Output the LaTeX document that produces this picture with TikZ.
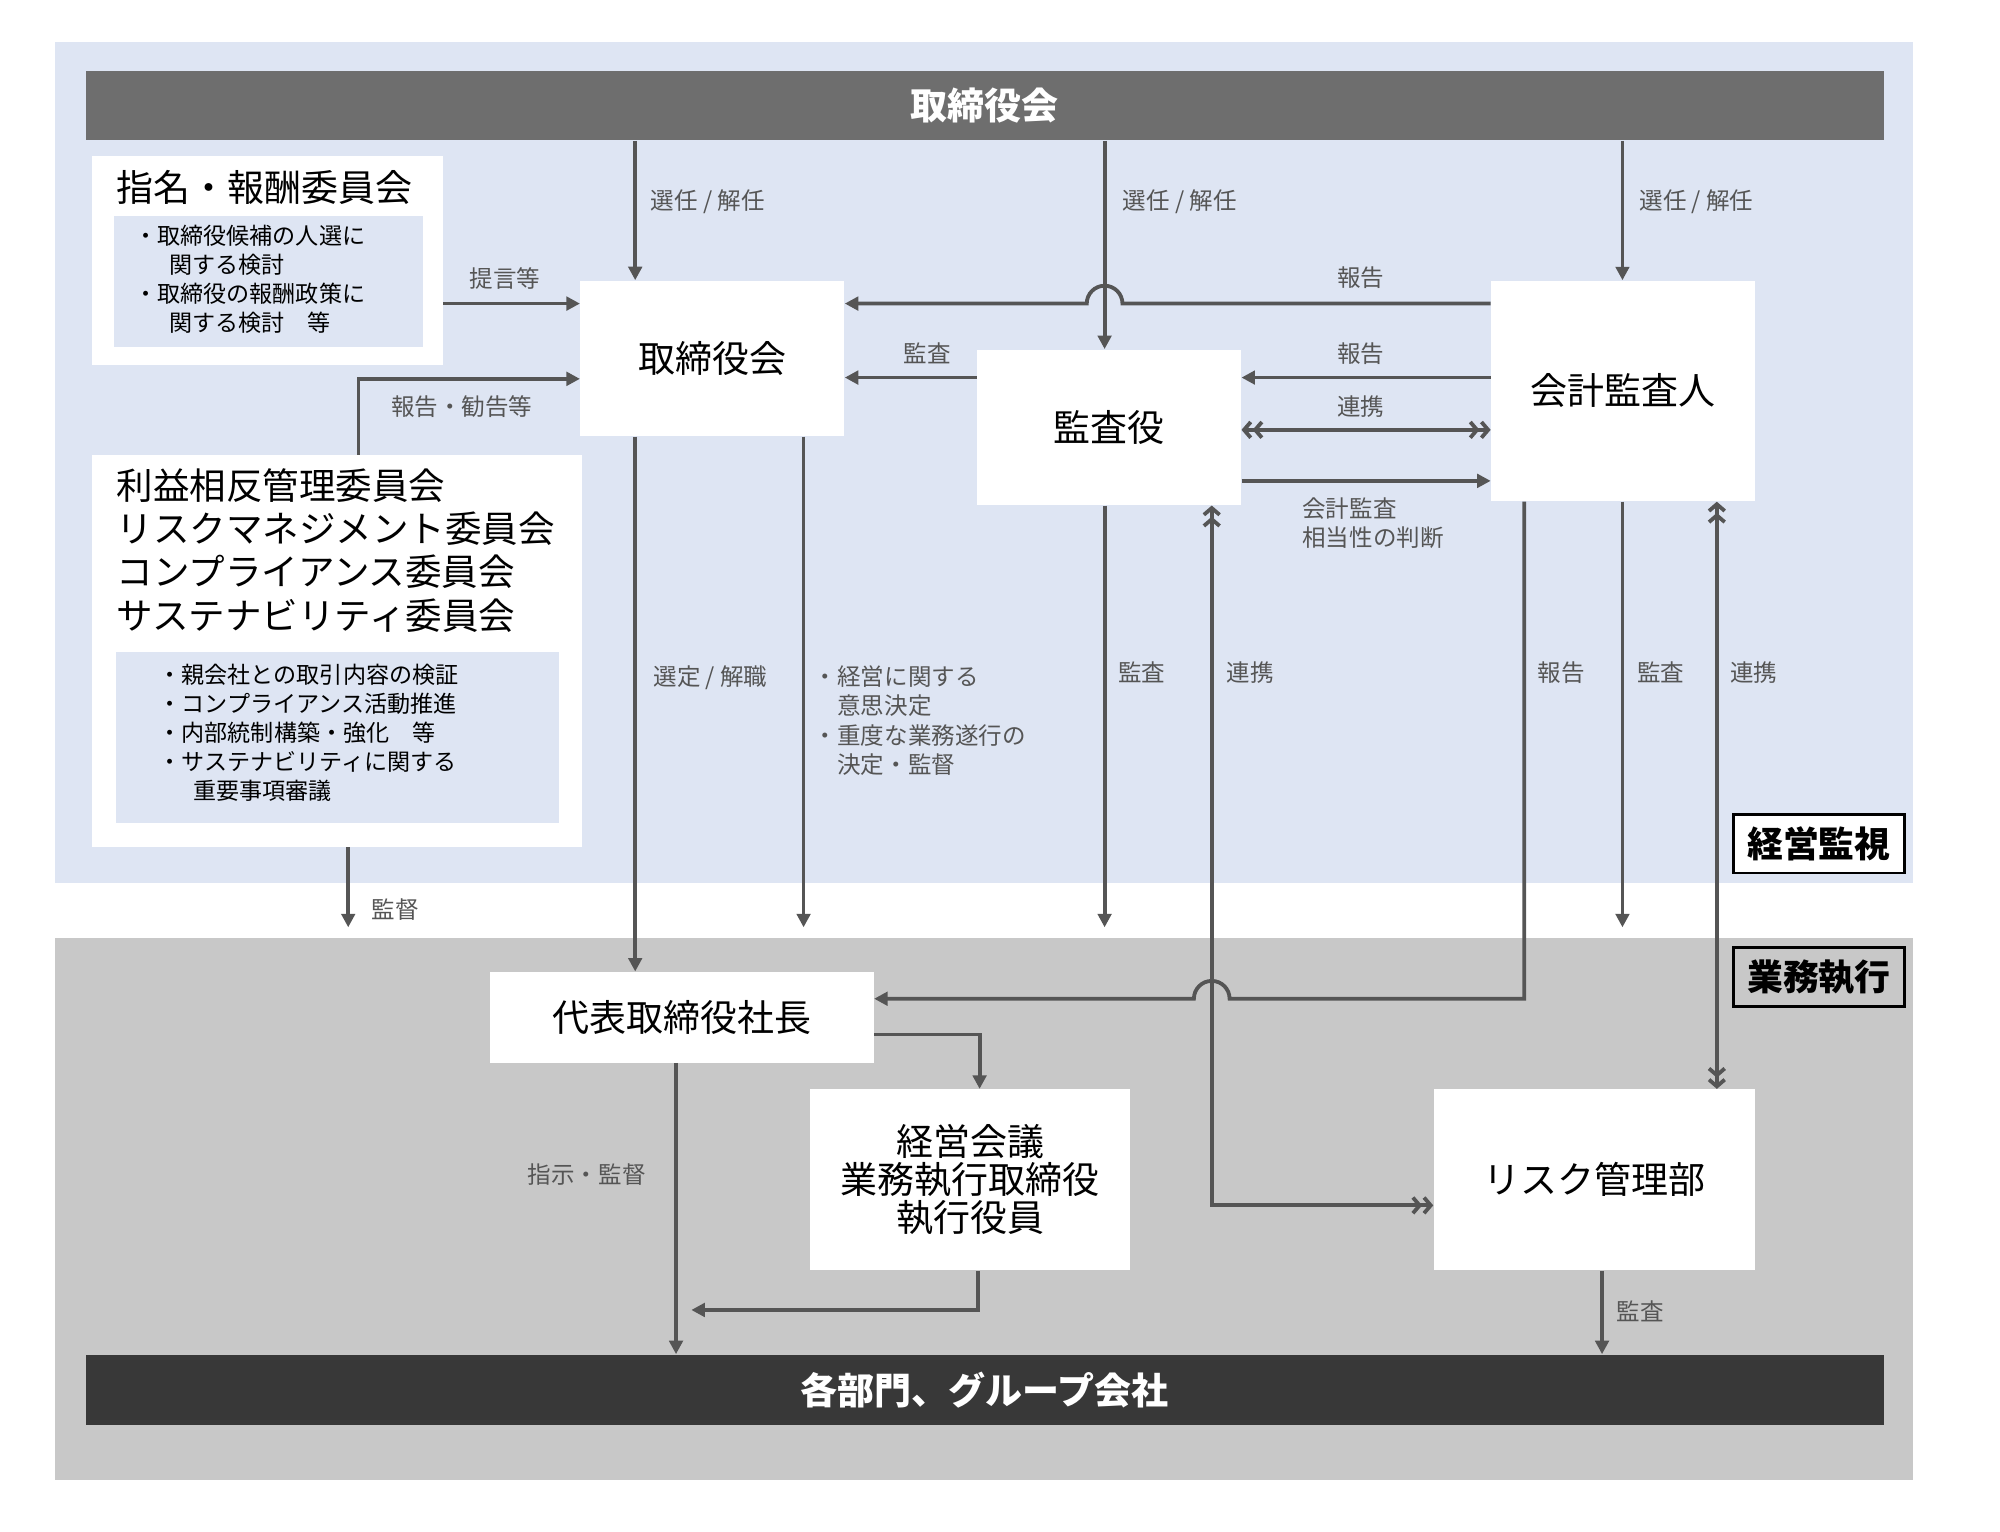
\documentclass[tikz,border=0pt]{standalone}
\usepackage{fontspec}
\setmainfont{Noto Sans CJK JP}
\usetikzlibrary{arrows.meta}
\definecolor{bgblue}{HTML}{DEE5F3}
\definecolor{bggray}{HTML}{C8C8C8}
\definecolor{ln}{HTML}{555555}
\definecolor{lbl}{HTML}{555555}
\begin{document}
\begin{tikzpicture}[x=0.02cm,y=-0.02cm,
  box/.style={fill=white,draw=none,inner sep=0pt,align=center,font=\fontsize{16.5}{20}\selectfont},
  inbox/.style={fill=bgblue,draw=none,inner sep=0pt},
  ar/.style={draw=ln,line width=1.7pt,-{Triangle[length=6pt,width=6pt]}},
  dar/.style={draw=ln,line width=1.7pt,{Straight Barb[length=3pt,width=7pt]Straight Barb[length=3pt,width=7pt]}-{Straight Barb[length=3pt,width=7pt]Straight Barb[length=3pt,width=7pt]}},
  pl/.style={draw=ln,line width=1.7pt},
  lb/.style={text=lbl,font=\fontsize{10.5}{13}\selectfont,inner sep=1pt},
  tag/.style={draw=black,line width=1.2pt,inner sep=0pt,minimum width=2.68cm,minimum height=0.92cm,font=\fontsize{16}{18}\bfseries\selectfont}]
\useasboundingbox (0,0) rectangle (1568,1200.4);
\fill[bgblue] (43,33) rectangle (1500,692);
\fill[bggray] (43,735) rectangle (1500,1160);
\node[fill=black!57,inner sep=0pt,minimum width=28.2cm,minimum height=1.08cm,text=white,font=\fontsize{16.5}{18}\bfseries\selectfont] (top) at (772,83) {取締役会};
\node[fill=black!78,inner sep=0pt,minimum width=28.2cm,minimum height=1.1cm,text=white,font=\fontsize{16.5}{18}\bfseries\selectfont] (bot) at (772,1089.5) {各部門、グループ会社};
% nomination committee
\node[box,minimum width=5.5cm,minimum height=3.28cm] (nom) at (209.5,204) {};
\node[inbox,minimum width=4.86cm,minimum height=2.06cm] (nomin) at (210.5,220.5) {};
\node[anchor=west,inner sep=0pt,font=\fontsize{16.5}{20}\selectfont] (nomt) at (91,147) {指名・報酬委員会};
\node[anchor=north west,inner sep=0pt,align=left,font=\fontsize{10.3}{13}\selectfont] (nomtx) at (105,176) {・取締役候補の人選に\\\hspace{1.5em}関する検討\\・取締役の報酬政策に\\\hspace{1.5em}関する検討\quad 等};
% committees
\node[box,minimum width=7.68cm,minimum height=6.14cm] (com) at (264,510.5) {};
\node[inbox,minimum width=6.94cm,minimum height=2.68cm] (comin) at (264.5,578) {};
\node[anchor=north west,inner sep=0pt,align=left,font=\fontsize{16.3}{19.3}\selectfont] (comt) at (91,367) {利益相反管理委員会\\リスクマネジメント委員会\\コンプライアンス委員会\\サステナビリティ委員会};
\node[anchor=north west,inner sep=0pt,align=left,font=\fontsize{10.3}{13}\selectfont] (comtx) at (124,520) {・親会社との取引内容の検証\\・コンプライアンス活動推進\\・内部統制構築・強化\quad 等\\・サステナビリティに関する\\\hspace{1.5em}重要事項審議};
% main nodes
\node[box,minimum width=4.14cm,minimum height=2.44cm] (trb) at (558.5,281) {取締役会};
\node[box,minimum width=4.14cm,minimum height=2.44cm] (kan) at (869.5,335) {監査役};
\node[box,minimum width=4.14cm,minimum height=3.46cm] (kai) at (1272.5,306.5) {会計監査人};
\node[box,minimum width=6.02cm,minimum height=1.42cm] (pres) at (534.5,797.5) {代表取締役社長};
\node[box,minimum width=5.02cm,minimum height=2.84cm,font=\fontsize{16.5}{17}\selectfont] (keiei) at (760.5,925) {経営会議\\業務執行取締役\\執行役員};
\node[box,minimum width=5.04cm,minimum height=2.84cm] (risk) at (1250,925) {リスク管理部};
\node[tag,fill=white] (t1) at (1426,661.5) {経営監視};
\node[tag,fill=bggray] (t2) at (1426,766) {業務執行};
% top arrows
\draw[ar] (top.south -| 498,0) -- (trb.north -| 498,0);
\node[lb] (l1) at (555,158) {選任 / 解任};
\draw[ar] (top.south -| 866,0) -- (kan.north -| 866,0);
\node[lb] (l2) at (925,158) {選任 / 解任};
\draw[ar] (top.south -| 1272,0) -- (kai.north -| 1272,0);
\node[lb] (l3) at (1330,158) {選任 / 解任};
\draw[ar] (nom.east |- 0,238) -- (trb.west |- 0,238);
\node[lb] (l4) at (396,218) {提言等};
\draw[ar] (kai.west |- 0,238) -- (880,238) arc[start angle=0,end angle=180,radius=0.28cm] -- (trb.east |- 0,238);
\node[lb] (l5) at (1067,218) {報告};
\draw[ar] (kan.west |- 0,296) -- (trb.east |- 0,296);
\node[lb] (l6) at (727,277) {監査};
\draw[ar] (kai.west |- 0,296) -- (kan.east |- 0,296);
\node[lb] (l7) at (1067,277) {報告};
\draw[dar] (kan.east |- 0,337) -- (kai.west |- 0,337);
\node[lb] (l8) at (1067,319) {連携};
\draw[ar] (kan.east |- 0,377) -- (kai.west |- 0,377);
\node[lb,anchor=north west,align=left] (l9) at (1019,388) {会計監査\\相当性の判断};
\draw[ar] (com.north -| 281,0) -- (281,297) -- (trb.west |- 0,297);
\node[lb] (l10) at (362,319) {報告・勧告等};
% down arrows
\draw[ar] (trb.south -| 498,0) -- (pres.north -| 498,0);
\node[lb] (l11) at (557,531) {選定 / 解職};
\draw[ar] (trb.south -| 630,0) -- (630,727);
\node[lb,anchor=north west,align=left] (l12) at (636,520) {・経営に関する\\\hspace{1em}意思決定\\・重度な業務遂行の\\\hspace{1em}決定・監督};
\draw[ar] (kan.south -| 866,0) -- (866,727);
\node[lb] (l13) at (895,527) {監査};
\draw[dar] (kan.south -| 950,0) -- (950,945) -- (risk.west |- 0,945);
\node[lb] (l14) at (980,527) {連携};
\draw[ar] (kai.south -| 1195,0) -- (1195,783) -- (964,783) arc[start angle=0,end angle=180,radius=0.28cm] -- (pres.east |- 0,783);
\node[lb] (l15) at (1224,527) {報告};
\draw[ar] (kai.south -| 1272,0) -- (1272,727);
\node[lb] (l16) at (1302,527) {監査};
\draw[dar] (kai.south -| 1346,0) -- (risk.north -| 1346,0);
\node[lb] (l17) at (1375,527) {連携};
\draw[ar] (com.south -| 273,0) -- (273,727);
\node[lb] (l18) at (310,713) {監督};
\draw[ar] (pres.east |- 0,811) -- (768,811) -- (keiei.north -| 768,0);
\draw[ar] (pres.south -| 530,0) -- (bot.north -| 530,0);
\node[lb] (l19) at (460,921) {指示・監督};
\draw[ar] (keiei.south -| 767,0) -- (767,1027) -- (542,1027);
\draw[ar] (risk.south -| 1256,0) -- (bot.north -| 1256,0);
\node[lb] (l20) at (1286,1028) {監査};
\end{tikzpicture}
\end{document}
